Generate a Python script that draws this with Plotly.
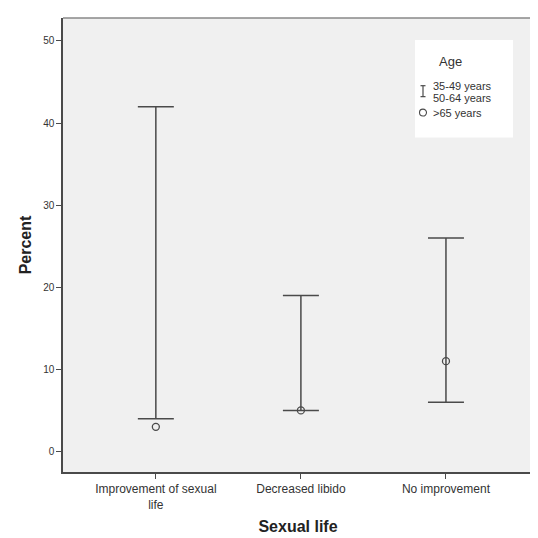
import plotly.graph_objects as go

categories = ["Improvement of sexual<br>life", "Decreased libido", "No improvement"]
age_35_49 = [42, 19, 26]
age_50_64 = [4, 5, 6]
age_65_plus = [3, 5, 11]

legend_title = "Age"
legend_labels = ["35-49 years", "50-64 years", ">65 years"]
y_ticks = [0, 10, 20, 30, 40, 50]

xs = list(range(len(categories)))
low = [min(a, b) for a, b in zip(age_35_49, age_50_64)]
span = [abs(a - b) for a, b in zip(age_35_49, age_50_64)]

LINE = "#4a4a4a"
FONT = "Arial, Liberation Sans, sans-serif"
fig = go.Figure()
fig.add_trace(go.Scatter(
    x=xs, y=low, mode="markers",
    marker=dict(size=1, color="rgba(0,0,0,0)"),
    error_y=dict(type="data", symmetric=False, array=span,
                 arrayminus=[0] * len(span), width=18, thickness=1.5, color=LINE),
    showlegend=False, hoverinfo="skip"))
fig.add_trace(go.Scatter(
    x=xs, y=age_65_plus, mode="markers",
    marker=dict(symbol="circle-open", size=7, color=LINE, line=dict(width=1.3, color=LINE)),
    showlegend=False))

# page has an 8px body margin; plot area in page pixels: x 63..533, y 18..474
def px(x):
    return (x - 63) / 470
def py(y):
    return (474 - y) / 456

shapes = [
    dict(type="rect", xref="paper", yref="paper", x0=px(415), x1=px(513), y0=py(138), y1=py(40),
         fillcolor="white", line=dict(width=0), layer="above"),
    dict(type="line", xref="paper", yref="paper", x0=px(423), x1=px(423), y0=py(97), y1=py(86),
         line=dict(color=LINE, width=1.2)),
    dict(type="line", xref="paper", yref="paper", x0=px(420.5), x1=px(425.5), y0=py(86), y1=py(86),
         line=dict(color=LINE, width=1.2)),
    dict(type="line", xref="paper", yref="paper", x0=px(420.5), x1=px(425.5), y0=py(97), y1=py(97),
         line=dict(color=LINE, width=1.2)),
    dict(type="circle", xref="paper", yref="paper", x0=px(419.5), x1=px(426.5), y0=py(116.5), y1=py(109.5),
         line=dict(color=LINE, width=1.1)),
]
fnt = dict(family=FONT, size=11, color="#333")
annotations = [
    dict(text=legend_title, xref="paper", yref="paper", x=px(464), y=py(62), showarrow=False,
         yanchor="middle", font=dict(family=FONT, size=13, color="#333")),
    dict(text=legend_labels[0], xref="paper", yref="paper", x=px(431), y=py(86), xanchor="left",
         yanchor="middle", showarrow=False, font=fnt),
    dict(text=legend_labels[1], xref="paper", yref="paper", x=px(431), y=py(98), xanchor="left",
         yanchor="middle", showarrow=False, font=fnt),
    dict(text=legend_labels[2], xref="paper", yref="paper", x=px(431), y=py(113), xanchor="left",
         yanchor="middle", showarrow=False, font=fnt),
]

fig.update_layout(
    width=530, height=530,
    margin=dict(l=55, r=5, t=10, b=64),
    paper_bgcolor="white", plot_bgcolor="#f0f0f0",
    showlegend=False,
    shapes=shapes, annotations=annotations,
    font=dict(family=FONT, size=10, color="#333"),
    xaxis=dict(range=[-0.64, 2.6], tickvals=xs, ticktext=categories,
               tickfont=dict(size=12),
               showgrid=False, zeroline=False, showline=True, linecolor=LINE, linewidth=1.5,
               mirror=False, ticks="outside", ticklen=5, tickcolor=LINE,
               title=dict(text="<b>Sexual life</b>", font=dict(size=16, color="#222"), standoff=10)),
    yaxis=dict(range=[-2.5, 52.8], tickvals=y_ticks,
               showgrid=False, zeroline=False, showline=True, linecolor=LINE, linewidth=1.5,
               ticks="outside", ticklen=5, tickcolor=LINE,
               title=dict(text="<b>Percent</b>", font=dict(size=16, color="#222"), standoff=8)),
)
fig.add_shape(type="line", xref="paper", yref="paper", x0=0, x1=1, y0=1, y1=1,
              line=dict(color="#888", width=1.5))
fig.write_html("out.html")
